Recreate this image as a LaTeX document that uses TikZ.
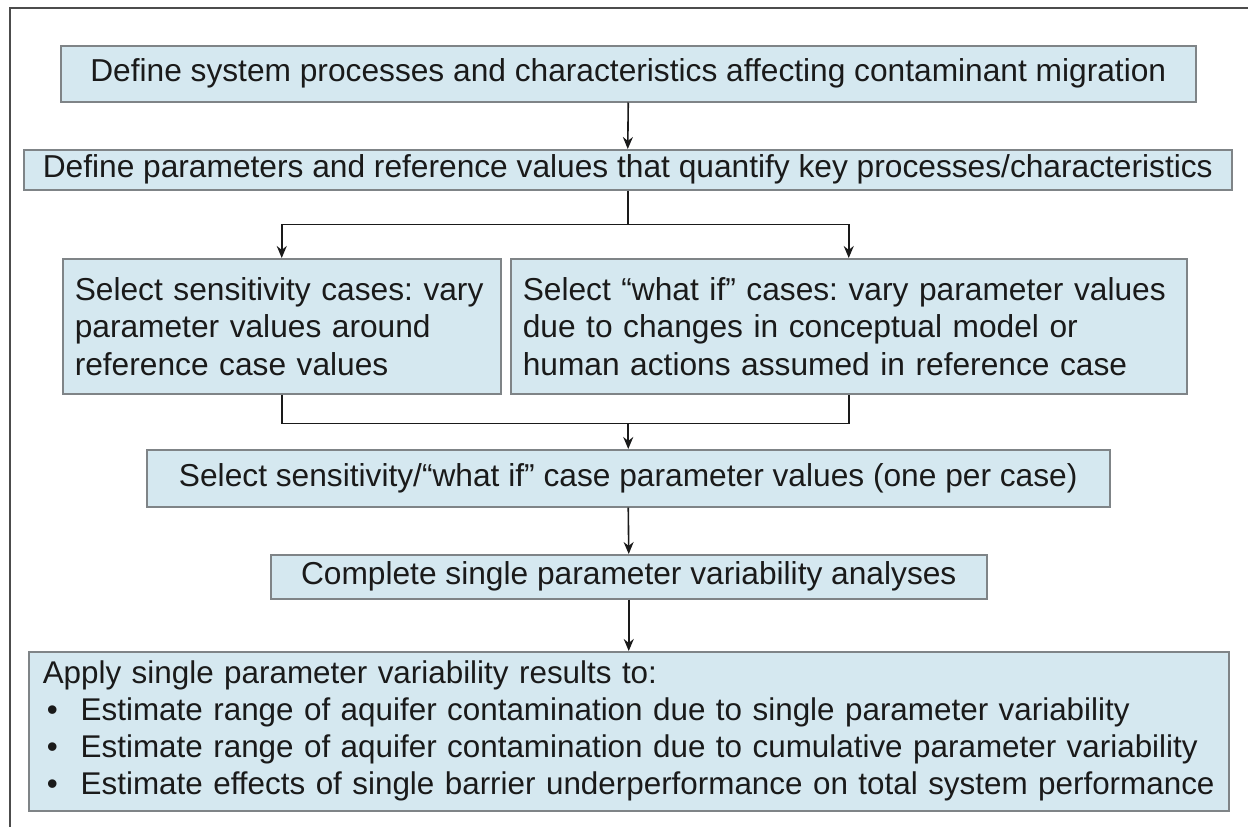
\documentclass[tikz,border=0pt]{standalone}
\usepackage{fontspec}
\setmainfont{Liberation Sans}
\usetikzlibrary{arrows.meta}
\definecolor{boxfill}{HTML}{D5E8F0}
\definecolor{boxline}{HTML}{7F8487}
\definecolor{inkc}{HTML}{1A1A1A}
\newcommand{\bulletline}[1]{\mbox{\makebox[38pt][l]{\hspace{4pt}\textbullet}#1}}
\begin{document}
\frenchspacing
\begin{tikzpicture}[x=1pt,y=-1pt,
  box/.style={draw=boxline, line width=1.5pt, fill=boxfill, inner sep=0pt,
    text=inkc, font=\fontsize{31.7}{37.5}\selectfont, anchor=north west},
  lbox/.style={box, align=left, inner xsep=12pt},
  link/.style={line width=1.6pt, draw=inkc},
  arr/.style={link, -{Stealth[length=12pt,width=10pt]}}]
\useasboundingbox (0,0) rectangle (1248,827);
\fill[white] (0,0) rectangle (1248,827);
% outer frame
\draw[line width=2pt, draw=black!70] (10,827) -- (10,8) -- (1248,8);

\node[box, minimum width=1135pt, minimum height=56pt] (b1) at (60,45)
  {Define system processes and characteristics affecting contaminant migration};
\node[box, minimum width=1208pt, minimum height=40pt] (b2) at (23,149)
  {Define parameters and reference values that quantify key processes/characteristics};
\node[lbox, minimum width=438pt, minimum height=135pt, text width=414pt] (b3) at (62,258)
  {Select sensitivity cases: vary\\parameter values around\\reference case values};
\node[lbox, minimum width=676pt, minimum height=135pt, text width=652pt] (b3b) at (510,258)
  {Select “what if” cases: vary parameter values\\due to changes in conceptual model or\\human actions assumed in reference case};
\node[box, minimum width=963pt, minimum height=57pt] (b4) at (146,449)
  {Select sensitivity/“what if” case parameter values (one per case)};
\node[box, minimum width=716pt, minimum height=44pt] (b5) at (270,554)
  {Complete single parameter variability analyses};
\node[box, align=left, inner xsep=14pt, minimum width=1200pt, minimum height=159pt, text width=1172pt, font=\fontsize{31.4}{37}\selectfont] (b6) at (28,651)
  {Apply single parameter variability results to:\\
   \bulletline{Estimate range of aquifer contamination due to single parameter variability}\\
   \bulletline{Estimate range of aquifer contamination due to cumulative parameter variability}\\
   \bulletline{Estimate effects of single barrier underperformance on total system performance}};

% connectors
\draw[arr] (b1.south) -- (b2.north);
\draw[arr] (b2.south) -- ++(0,34) coordinate (fork) -| (b3.north);
\draw[arr] (fork) -| (b3b.north);
\draw[link] (b3.south) -- ++(0,29) coordinate (join) -| (b3b.south);
\draw[arr] (join -| b4.north) -- (b4.north);
\draw[arr] (b4.south) -- (b5.north);
\draw[arr] (b5.south) -- (b6.north);
\end{tikzpicture}
\end{document}
